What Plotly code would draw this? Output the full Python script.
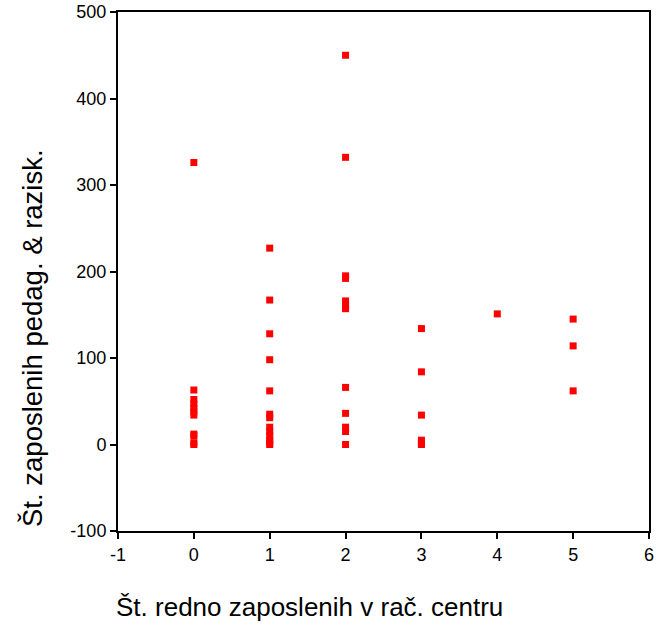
import plotly.graph_objects as go

x0_vals = [326, 63, 52, 47, 42, 38, 34, 12, 10, 2, 0]
x1_vals = [227, 167, 128, 98, 62, 35, 31, 20, 15, 10, 5, 2, 0]
x2_vals = [450, 332, 195, 192, 166, 161, 157, 66, 36, 20, 15, 0]
x3_vals = [134, 84, 34, 5, 2, 0]
x4_vals = [151]
x5_vals = [145, 114, 62]

groups = [0, 1, 2, 3, 4, 5]
series = [x0_vals, x1_vals, x2_vals, x3_vals, x4_vals, x5_vals]

xs, ys = [], []
for g, vals in zip(groups, series):
    xs += [g] * len(vals)
    ys += vals

x_ticks = [-1, 0, 1, 2, 3, 4, 5, 6]
y_ticks = [-100, 0, 100, 200, 300, 400, 500]

x_title = "Št. redno zaposlenih v rač. centru"
y_title = "Št. zaposlenih pedag. & razisk."

fig = go.Figure(go.Scatter(
    x=xs, y=ys, mode="markers",
    marker=dict(symbol="square", size=7, color="#ff0000", line=dict(width=0)),
))

fam = "Liberation Sans, Arial, sans-serif"
axis_common = dict(
    showgrid=False, zeroline=False, showline=True, mirror=True,
    linecolor="black", linewidth=2, ticks="outside", ticklen=6, tickwidth=1.5,
    tickcolor="black", tickfont=dict(size=18, family=fam, color="black"),
    automargin=False, ticklabeloverflow="allow",
)
fig.update_layout(
    width=656, height=634,
    margin=dict(l=118, r=7, t=12, b=103, autoexpand=False),
    paper_bgcolor="white", plot_bgcolor="white",
    showlegend=False,
    font=dict(family=fam, color="black"),
    xaxis=dict(range=[-1, 6], tickvals=x_ticks, ticktext=[str(v) for v in x_ticks], **axis_common),
    yaxis=dict(range=[-100, 500], tickvals=y_ticks, ticktext=[str(v) for v in y_ticks], **axis_common),
    annotations=[
        dict(text=x_title, xref="paper", yref="paper", x=0.36, y=-0.146,
             xanchor="center", yanchor="middle", showarrow=False,
             font=dict(size=26, family=fam, color="black")),
        dict(text=y_title, xref="paper", yref="paper", x=-0.16, y=0.372,
             xanchor="center", yanchor="middle", showarrow=False, textangle=-90,
             font=dict(size=27.5, family=fam, color="black")),
    ],
)

fig.write_html("out.html", config={"displayModeBar": False},
               post_script="document.body.style.margin='0';document.body.style.overflow='hidden';")
